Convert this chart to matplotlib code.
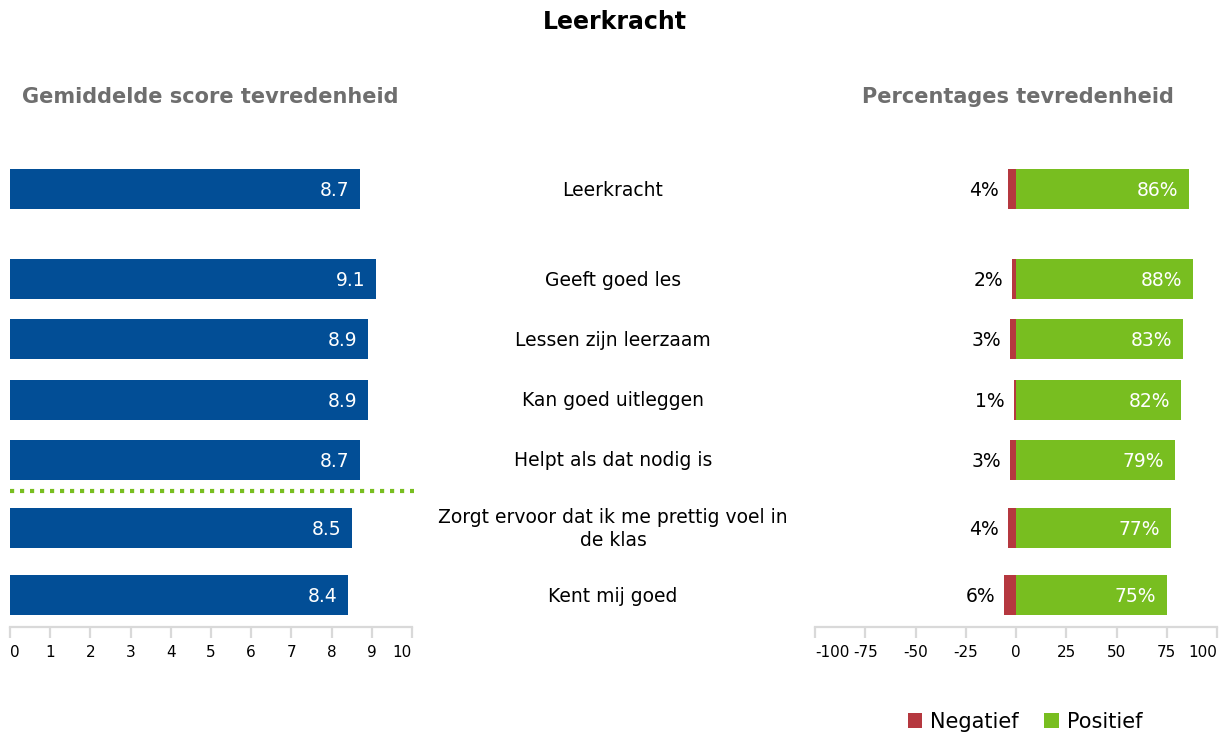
import matplotlib.pyplot as plt
import numpy as np

plt.rcParams['font.family'] = ['DejaVu Sans']
plt.rcParams['axes.unicode_minus'] = False

########## DATA ##########
categories = ["Leerkracht", "Geeft goed les", "Lessen zijn leerzaam", "Kan goed uitleggen",
              "Helpt als dat nodig is", "Zorgt ervoor dat ik me prettig voel in\nde klas",
              "Kent mij goed"]
scores = [8.7, 9.1, 8.9, 8.9, 8.7, 8.5, 8.4]
negatief = [4, 2, 3, 1, 3, 4, 6]
positief = [86, 88, 83, 82, 79, 77, 75]

########## LAYOUT (pixel rows) ##########
W, H = 1226, 738
row_y = [189, 279, 339, 400, 460, 528, 595]
bar_h = 40
axis_y = 627
threshold_y = 491

blue = "#024E96"
green = "#78BE20"
red = "#B5383F"
grey = "#D9D9D9"

fig = plt.figure(figsize=(W / 100, H / 100), dpi=100)


def make_axes(x0, x1):
    top = 160
    ax = fig.add_axes([x0 / W, 1 - axis_y / H, (x1 - x0) / W, (axis_y - top) / H])
    ax.set_ylim(axis_y, top)
    for s in ["top", "right", "left"]:
        ax.spines[s].set_visible(False)
    ax.spines["bottom"].set_color(grey)
    ax.spines["bottom"].set_linewidth(1.6)
    ax.tick_params(axis="x", colors=grey, length=8, width=1.6, labelcolor="black",
                   labelsize=11, pad=5)
    ax.set_yticks([])
    ax.patch.set_alpha(0)
    return ax


def edge_labels(ax):
    labels = ax.get_xticklabels()
    labels[0].set_ha("left")
    labels[-1].set_ha("right")


# left: average score
ax1 = make_axes(10, 412)
ax1.set_xlim(0, 10)
ax1.set_xticks(range(0, 11))
edge_labels(ax1)
ax1.barh(row_y, scores, height=bar_h, color=blue)
for y, v in zip(row_y, scores):
    ax1.text(v - 0.25, y, f"{v:.1f}", color="white", ha="right", va="center_baseline",
             fontsize=13.5)
ax1.plot([0, 10.05], [threshold_y, threshold_y], color=green, lw=3,
         linestyle=(0, (1, 1.4)), clip_on=False)

# right: percentages
ax2 = make_axes(815, 1217)
ax2.set_xlim(-100, 100)
ax2.set_xticks(range(-100, 101, 25))
edge_labels(ax2)
ax2.barh(row_y, [-n for n in negatief], height=bar_h, color=red, label="Negatief")
ax2.barh(row_y, positief, height=bar_h, color=green, label="Positief")
for y, n, p in zip(row_y, negatief, positief):
    ax2.text(-n - 4.5, y, f"{n}%", color="black", ha="right", va="center_baseline",
             fontsize=13.5)
    ax2.text(p - 5.5, y, f"{p}%", color="white", ha="right", va="center_baseline",
             fontsize=13.5)

# category labels in the middle
for y, c in zip(row_y, categories):
    fig.text(613 / W, 1 - (y + 1) / H, c, ha="center", va="center", fontsize=13.5,
             linespacing=1.25)

fig.text(615 / W, 1 - 22 / H, "Leerkracht", ha="center", va="center", fontsize=17,
         fontweight="bold")
fig.text(210 / W, 1 - 97 / H, "Gemiddelde score tevredenheid", ha="center", va="center",
         fontsize=15, fontweight="bold", color="#6E6E6E")
fig.text(1018 / W, 1 - 97 / H, "Percentages tevredenheid", ha="center", va="center",
         fontsize=15, fontweight="bold", color="#6E6E6E")

fig.legend(*ax2.get_legend_handles_labels(), loc="center", bbox_to_anchor=(1025 / W, 1 - 722 / H),
           ncol=2, frameon=False, fontsize=15, handlelength=0.7, handleheight=0.7,
           handletextpad=0.4, columnspacing=1.2)

fig.savefig("out.png", dpi=100)
